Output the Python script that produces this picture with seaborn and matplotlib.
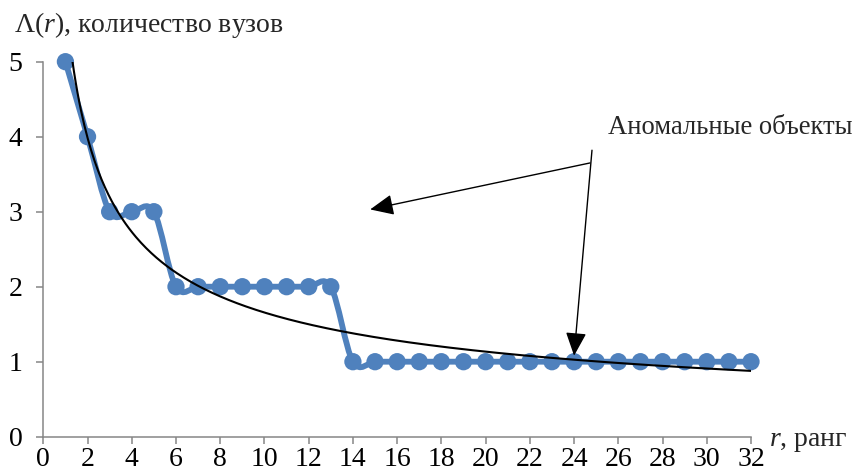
import numpy as np
import pandas as pd
import matplotlib
matplotlib.use("Agg")
import matplotlib.pyplot as plt
from matplotlib.path import Path
from matplotlib.patches import PathPatch
import seaborn as sns

# ---- data ----
ranks = list(range(1, 33))
counts = [5, 4, 3, 3, 3] + [2] * 8 + [1] * 19
x_ticks = list(range(0, 33, 2))
y_ticks = [0, 1, 2, 3, 4, 5]
title_text = "Λ($\\mathit{r}$), количество вузов"
xlabel_text = "$\\mathit{r}$, ранг"
annot_text = "Аномальные объекты"

BLUE = "#4F81BD"
GRAY = "#868686"
FS = 20

sns.set_theme(style="white")
plt.rcParams["font.family"] = ["Liberation Serif", "DejaVu Serif"]
plt.rcParams["mathtext.fontset"] = "custom"
plt.rcParams["mathtext.rm"] = "Liberation Serif"
plt.rcParams["mathtext.it"] = "Liberation Serif:italic"

df = pd.DataFrame({"r": ranks, "n": counts})

fig = plt.figure(figsize=(8.56, 4.76), dpi=100)
ax = fig.add_axes([43.3 / 856, 1 - 436.7 / 476, 707.7 / 856, 375 / 476])

# smoothed (Excel-like Bezier) line through the data points
P = np.column_stack([df["r"].to_numpy(float), df["n"].to_numpy(float)])
verts = [tuple(P[0])]
codes = [Path.MOVETO]
for i in range(len(P) - 1):
    p_prev = P[i - 1] if i > 0 else P[i]
    p_next2 = P[i + 2] if i + 2 < len(P) else P[i + 1]
    c1 = P[i] + (P[i + 1] - p_prev) / 6.0
    c2 = P[i + 1] - (p_next2 - P[i]) / 6.0
    verts += [tuple(c1), tuple(c2), tuple(P[i + 1])]
    codes += [Path.CURVE4] * 3
ax.add_patch(PathPatch(Path(verts, codes), facecolor="none", edgecolor=BLUE,
                       lw=4.2, capstyle="round", joinstyle="round", zorder=2,
                       clip_on=False))

sns.scatterplot(data=df, x="r", y="n", ax=ax, color=BLUE, s=155,
                edgecolor="none", zorder=3, legend=False, clip_on=False)

# power trendline fitted to the data
b, lna = np.polyfit(np.log(df["r"]), np.log(df["n"]), 1)
xt = np.linspace(1, 32, 400)
sns.lineplot(x=xt, y=np.exp(lna) * xt ** b, ax=ax, color="black", lw=1.5, zorder=4)

ax.set_xlim(0, 32)
ax.set_ylim(0, 5)
ax.set_xticks(x_ticks)
ax.set_yticks(y_ticks)
ax.set_xlabel("")
ax.set_ylabel("")
for s in ["top", "right"]:
    ax.spines[s].set_visible(False)
for s in ["left", "bottom"]:
    ax.spines[s].set_color(GRAY)
    ax.spines[s].set_linewidth(1.1)
ax.tick_params(axis="both", direction="out", length=5, width=1.1, color=GRAY,
               labelsize=FS, labelcolor="black")
ax.tick_params(axis="y", pad=10)
ax.tick_params(axis="x", pad=2.5)
ax.tick_params(axis="x", bottom=True)
ax.tick_params(axis="y", left=True)

fig.text(14 / 856, 1 - 32 / 476, title_text, fontsize=FS, ha="left", va="baseline")
ax.text(1.025, -0.012, xlabel_text, transform=ax.transAxes, fontsize=FS,
        ha="left", va="center")

fig.text(853 / 856, 1 - 128 / 476, annot_text, fontsize=19.2, ha="right", va="center")
aprops = dict(arrowstyle="-|>,head_length=0.9,head_width=0.4", color="black",
              lw=1.0, shrinkA=0, shrinkB=0, mutation_scale=16)
ax.annotate("", xy=(14.78, 3.03), xytext=(24.72, 3.65), arrowprops=aprops)
ax.annotate("", xy=(24.0, 1.08), xytext=(24.81, 3.82), arrowprops=aprops)

fig.savefig("out.png", dpi=100)
